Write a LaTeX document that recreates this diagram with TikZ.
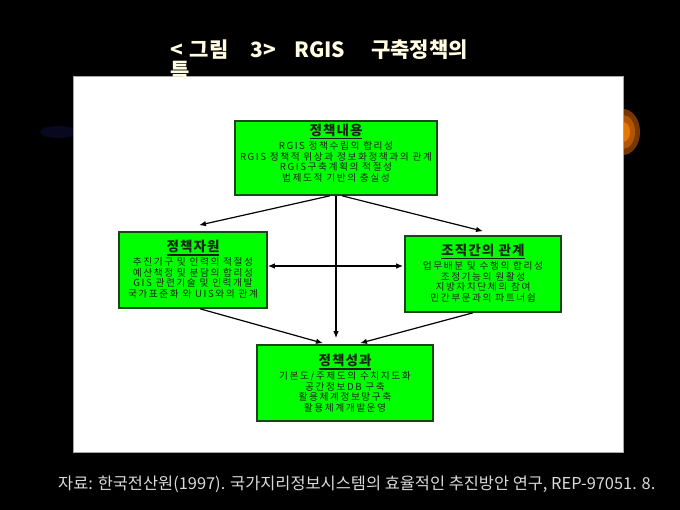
\documentclass[tikz,border=0pt]{standalone}
\usepackage{fontspec}
\usetikzlibrary{arrows.meta,calc}
\newfontfamily\kr{Noto Sans CJK KR}
\newfontfamily\krsp[LetterSpace=16]{Noto Sans CJK KR}
\newfontfamily\krhead[LetterSpace=8]{Noto Sans CJK KR}
\definecolor{boxgreen}{RGB}{0,255,0}
\definecolor{boxline}{RGB}{25,70,25}
\definecolor{boxtext}{RGB}{25,35,25}
\definecolor{titlecream}{RGB}{255,252,225}
\definecolor{footgray}{RGB}{218,218,218}
\definecolor{orA}{RGB}{120,55,0}
\definecolor{orB}{RGB}{180,85,0}
\definecolor{orC}{RGB}{230,120,0}
\definecolor{navyglow}{RGB}{8,8,32}
\newcommand\boxhead[1]{\begingroup\krhead\fontsize{13.5}{13.5}\selectfont\bfseries
  \setbox0=\hbox{#1}\vtop{\box0\kern1.6pt\hrule height 1.3pt}\endgroup}
\tikzset{
  greenbox/.style={draw=boxline, line width=1.6pt, fill=boxgreen, inner sep=0pt},
  boxcontent/.style={align=center, text=boxtext, inner sep=0pt,
    font=\krsp\fontsize{9.7}{10.6}\selectfont},
  conn/.style={line width=1.2pt, -{Latex[length=7pt,width=5.5pt]}},
  conn2/.style={line width=1.2pt, {Latex[length=7pt,width=5.5pt]}-{Latex[length=7pt,width=5.5pt]}},
  titletext/.style={anchor=base west, text=titlecream, inner sep=0pt,
    font=\kr\bfseries\fontsize{21}{22}\selectfont}
}
\begin{document}
\begin{tikzpicture}[x=1pt,y=-1pt]
\useasboundingbox (0,0) rectangle (680,510);
\fill[black] (0,0) rectangle (680,510);
% background glows
\fill[navyglow] (58,132) ellipse [x radius=18, y radius=6];
\fill[orA] (623,132) ellipse [x radius=17, y radius=23];
\fill[orB] (623,132) ellipse [x radius=12, y radius=17];
\fill[orC] (623,132) ellipse [x radius=7, y radius=10];
% white panel
\node[draw=gray!70, line width=0.8pt, fill=white, minimum width=550pt, minimum height=376pt, inner sep=0pt, anchor=north west] (panel) at (73,76) {};
% title
\node[titletext] (title1) at (170,58) {<\hspace{7pt}그림\hspace{22pt}3>\hspace{18pt}RGIS\hspace{26pt}구축정책의};
\node[titletext] (title2) at (170,79) {특};
% boxes
\node[greenbox, minimum width=202pt, minimum height=74pt] (top) at (336,158) {};
\node[greenbox, minimum width=148pt, minimum height=76pt] (left) at (193,270) {};
\node[greenbox, minimum width=156pt, minimum height=76pt] (right) at (483,274) {};
\node[greenbox, minimum width=176pt, minimum height=76pt] (bottom) at (345,383) {};
% box texts
\node[boxcontent] (toptxt) at ($(top.center)+(0,-5)$) {\boxhead{정책내용}\\[1pt]
RGIS 정책수립의 합리성\\RGIS 정책적 위상과 정보화정책과의 관계\\RGIS구축계획의 적절성\\법제도적 기반의 충실성};
\node[boxcontent] (lefttxt) at ($(left.center)+(0,-1)$) {\boxhead{정책자원}\\[1pt]
추진기구 및 인력의 적절성\\예산책정 및 분담의 합리성\\GIS 관련기술 및 인력개발\\국가표준화 와 UIS와의 관계};
\node[boxcontent] (righttxt) at ($(right.center)+(0,-1)$) {\boxhead{조직간의 관계}\\[1pt]
업무배분 및 수행의 합리성\\조정기능의 원활성\\지방자치단체의 참여\\민간부문과의 파트너쉽};
\node[boxcontent] (bottomtxt) at ($(bottom.center)+(0,0)$) {\boxhead{정책성과}\\[1pt]
기본도/주제도의 수치지도화\\공간정보DB 구축\\활용체계정보망구축\\활용체계개발운영};
% connectors
\draw[conn] ($(top.south)+(-6,0)$) -- ($(left.north)+(6,-6)$);
\draw[conn] ($(top.south)+(6,0)$) -- ($(right.north)+(0,-4)$);
\draw[conn] (top.south) -- ($(bottom.north)+(-9,-6)$);
\draw[conn2] ($(left.east)+(0,-4)$) -- ($(right.west)+(-1,-8)$);
\draw[conn] ($(left.south)+(7,0)$) -- ($(bottom.north)+(-22,-1)$);
\draw[conn] ($(right.south)+(-10,0)$) -- ($(bottom.north)+(15,-1)$);
% footer
\node[anchor=base west, text=footgray, font=\kr\fontsize{16.4}{18}\selectfont, inner sep=0pt] (footer) at (58,489) {자료: 한국전산원(1997). 국가지리정보시스템의 효율적인 추진방안 연구, REP-97051. 8.};
\end{tikzpicture}
\end{document}
